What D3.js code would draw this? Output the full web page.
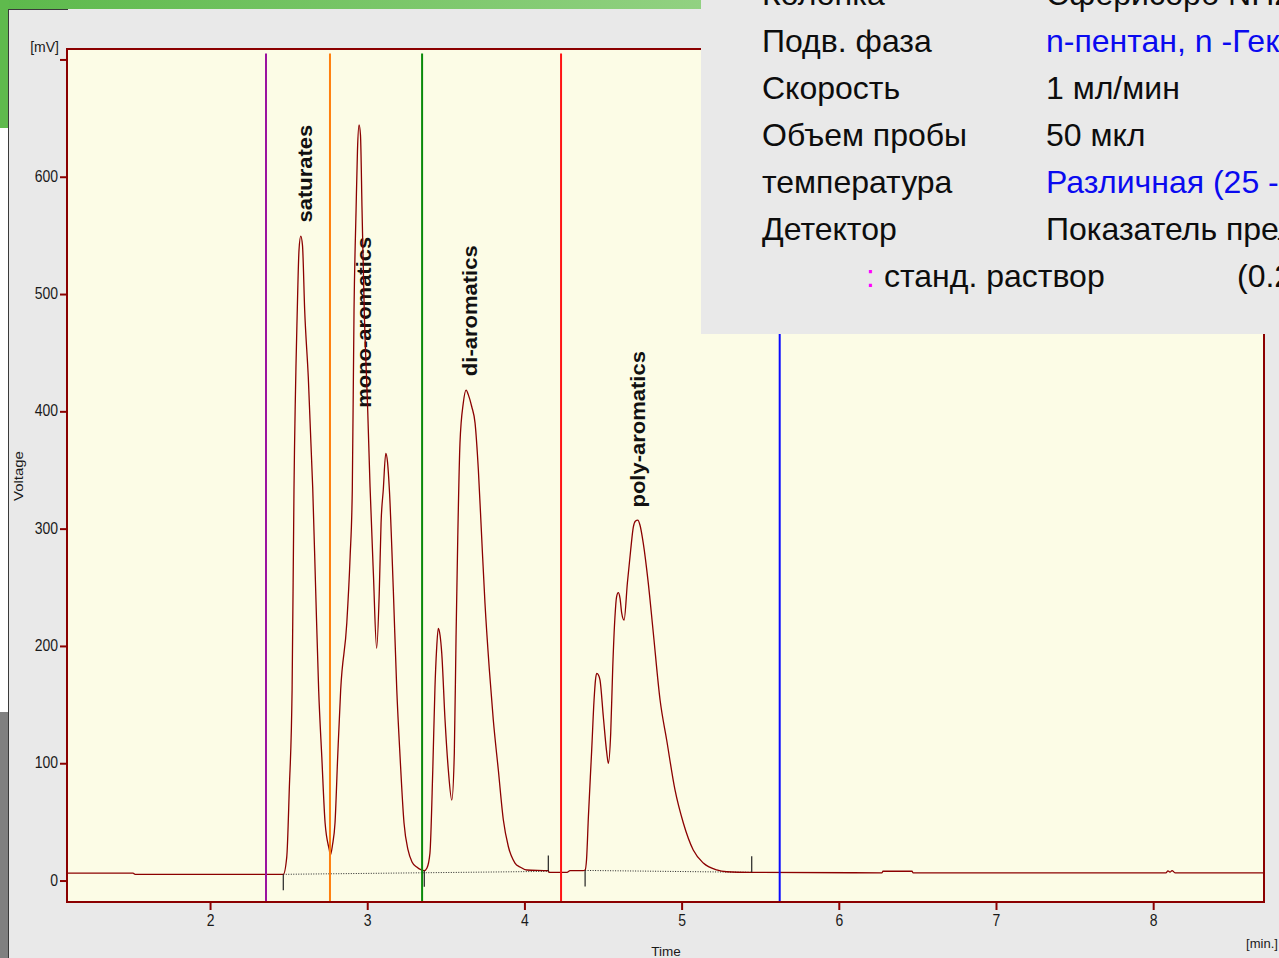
<!DOCTYPE html>
<html><head><meta charset="utf-8">
<script src="https://cdn.jsdelivr.net/npm/d3@7"></script>
<style>
body{margin:0;background:#fff;overflow:hidden;}
svg{display:block;font-family:"Liberation Sans",Arial,sans-serif;}
</style>
</head><body>
<svg id="chart" width="1279" height="958"></svg>
<script>
// ---------------- data ----------------
const timeTicks = [2, 3, 4, 5, 6, 7, 8];
const voltTicks = [0, 100, 200, 300, 400, 500, 600, 700];

const traceTime = [1.090,1.510,1.523,2.466,2.488,2.504,2.522,2.534,2.555,2.566,2.577,2.588,2.602,2.625,2.653,2.672,2.691,2.711,2.732,2.759,
  2.765,2.779,2.795,2.812,2.831,2.870,2.891,2.905,2.916,2.929,2.938,2.948,2.957,2.967,2.981,3.003,3.018,3.039,3.060,3.077,
  3.088,3.102,3.118,3.129,3.141,3.166,3.188,3.209,3.234,3.260,3.285,3.315,3.363,3.380,3.399,3.417,3.431,3.441,3.452,3.463,
  3.474,3.495,3.516,3.538,3.554,3.565,3.576,3.590,3.611,3.629,3.644,3.665,3.686,3.707,3.728,3.749,3.777,3.802,3.834,3.866,
  3.898,3.940,3.972,4.015,4.152,4.156,4.271,4.290,4.373,4.386,4.395,4.407,4.428,4.443,4.452,4.460,4.471,4.481,4.502,4.524,
  4.534,4.549,4.562,4.576,4.586,4.597,4.608,4.619,4.634,4.655,4.676,4.693,4.707,4.721,4.735,4.756,4.788,4.820,4.863,4.905,
  4.958,5.011,5.074,5.138,5.223,5.287,5.446,6.275,6.281,6.466,6.472,8.081,8.094,8.107,8.120,8.139,8.705];
const traceValue = [6.4,6.4,5.3,5.3,20,77.2,162.4,332.9,486.4,537.5,549.4,541.7,486.4,429.2,335.5,247.7,162.4,105.3,49.0,25.9,
  21.7,30.3,49.0,105.3,162.4,219.5,275.8,332.9,486.4,571.6,622.8,644.1,635.6,571.6,486.4,401.1,335.5,262.1,198.0,247.7,
  304.8,332.9,364.2,356.8,332.9,247.7,162.4,105.3,49.0,25.9,15.8,11.5,8.4,10.7,23.4,94.2,165.0,196.5,215.0,209.3,
  193.9,136.8,94.2,68.6,108.7,207.6,292.8,372.9,407.0,418.1,413.8,403.9,390.0,350.0,292.8,236.6,179.5,136.8,94.2,51.6,
  28.8,14.9,11.5,9.0,8.4,7.0,7.0,8.4,8.4,9.0,17.5,54.4,111.3,153.9,170.9,176.6,175.2,170.9,139.6,108.7,
  99.9,125.7,182.3,224.9,241.7,245.4,240.8,228.0,222.1,253.6,281.8,301.6,306.5,307.3,303.1,287.7,253.6,211.0,153.9,119.8,
  77.2,49.0,26.0,14.9,9.0,7.5,7.0,6.6,7.9,7.9,6.6,6.6,8.2,7.2,8.5,6.6,6.6];

// fraction cut lines
const cutTimes = [2.356, 2.763, 3.349, 4.233, 5.624];
const cutTop = 705;

// fraction labels
const fractionNames = ["saturates", "mono-aromatics", "di-aromatics", "poly-aromatics"];
const fractionLabelTime = [2.649, 3.024, 3.699, 4.764];
const fractionLabelValue = [561, 403, 430, 318];

// integration baselines (dotted) and peak-start/end marks
const baseStartTime = [2.466, 4.386];
const baseStartValue = [5.3, 8.6];
const baseEndTime = [4.152, 5.446];
const baseEndValue = [7.8, 7.0];
const markTime = [2.466, 3.363, 4.152, 4.386, 5.446];
const markValue = [5.3, 8.4, 7.8, 8.6, 7.0];
const markUp = [false, false, true, false, true];

// info table (Russian)
const tableLabels = ["Колонка", "Подв. фаза", "Скорость", "Объем пробы", "температура", "Детектор"];
const tableValues = ["Сферисорб NH2", "n-пентан, n -Гексан", "1 мл/мин", "50 мкл", "Различная (25 - 50 °C)", "Показатель преломления"];
const lastRowLabel = "станд. раствор";
const lastRowValue = "(0.2 %)";

// ---------------- drawing ----------------
const W = 1279, H = 958;
const svg = d3.select("#chart");
const defs = svg.append("defs");
const grad = defs.append("linearGradient").attr("id", "grn").attr("x1", "0").attr("x2", "1");
grad.append("stop").attr("offset", "0").attr("stop-color", "#5cb94b");
grad.append("stop").attr("offset", "1").attr("stop-color", "#93d283");

// slide background pieces
svg.append("rect").attr("x", 0).attr("y", 0).attr("width", W).attr("height", H).attr("fill", "#ffffff");
svg.append("rect").attr("x", 0).attr("y", 0).attr("width", 720).attr("height", 10).attr("fill", "url(#grn)");
svg.append("rect").attr("x", 0).attr("y", 0).attr("width", 9).attr("height", 128).attr("fill", "#5fba4d");
svg.append("rect").attr("x", 0).attr("y", 712).attr("width", 9).attr("height", H - 712).attr("fill", "#808080");

// chart panel
svg.append("rect").attr("x", 8).attr("y", 9).attr("width", W - 8).attr("height", H - 9).attr("fill", "#e9e9e9");
svg.append("line").attr("x1", 8.5).attr("x2", 8.5).attr("y1", 9).attr("y2", H).attr("stroke", "#3a3a3a").attr("stroke-width", 1);
svg.append("line").attr("x1", 8).attr("x2", 68).attr("y1", 9.5).attr("y2", 9.5).attr("stroke", "#3a3a3a").attr("stroke-width", 1);

const x = d3.scaleLinear().domain([1.09, 8.705]).range([67, 1264]);
const y = d3.scaleLinear().domain([-18.3, 708.9]).range([902, 49]);

// plot area
svg.append("rect").attr("x", x.range()[0]).attr("y", y.range()[1])
  .attr("width", x.range()[1] - x.range()[0]).attr("height", y.range()[0] - y.range()[1])
  .attr("fill", "#fcfce6");

// fraction labels (under the trace)
const lab = svg.append("g");
fractionNames.forEach((n, i) => {
  lab.append("text")
    .attr("transform", `translate(${x(fractionLabelTime[i])},${y(fractionLabelValue[i])}) rotate(-90) scale(1.1,1)`)
    .attr("font-size", 20).attr("font-weight", "bold").attr("fill", "#111")
    .text(n);
});

// dotted integration baselines
for (let i = 0; i < baseStartTime.length; i++) {
  svg.append("line")
    .attr("x1", x(baseStartTime[i])).attr("y1", y(baseStartValue[i]))
    .attr("x2", x(baseEndTime[i])).attr("y2", y(baseEndValue[i]))
    .attr("stroke", "#222").attr("stroke-width", 1).attr("stroke-dasharray", "1,1.5");
}

// trace
const pts = traceTime.map((t, i) => [t, traceValue[i]]);
const line = d3.line().x(d => x(d[0])).y(d => y(d[1])).curve(d3.curveMonotoneX);
svg.append("path").attr("d", line(pts)).attr("fill", "none")
  .attr("stroke", "#8b0000").attr("stroke-width", 1.3).attr("stroke-linejoin", "round");

// integration marks
markTime.forEach((t, i) => {
  const y0 = y(markValue[i]);
  svg.append("line").attr("x1", x(t)).attr("x2", x(t))
    .attr("y1", y0).attr("y2", markUp[i] ? y0 - 16 : y0 + 16)
    .attr("stroke", "#222").attr("stroke-width", 1.2);
});

// cut lines
const cutColors = ["#9b139f", "#ff7f0e", "#0a8a0a", "#ff1414", "#0a0aff"];
cutTimes.forEach((t, i) => {
  svg.append("line").attr("x1", x(t)).attr("x2", x(t))
    .attr("y1", y(cutTop)).attr("y2", y.range()[0])
    .attr("stroke", cutColors[i]).attr("stroke-width", 2);
});

// frame
svg.append("rect").attr("x", x.range()[0]).attr("y", y.range()[1])
  .attr("width", x.range()[1] - x.range()[0]).attr("height", y.range()[0] - y.range()[1])
  .attr("fill", "none").attr("stroke", "#8b0000").attr("stroke-width", 2);

// axes
const yAxis = d3.axisLeft(y).tickValues(voltTicks).tickSize(7).tickPadding(2)
  .tickFormat(d => d === 700 ? "" : d);
const gy = svg.append("g").attr("transform", `translate(${x.range()[0]},0)`).call(yAxis);
const xAxis = d3.axisBottom(x).tickValues(timeTicks).tickSize(8).tickPadding(2).tickFormat(d3.format("d"));
const gx = svg.append("g").attr("transform", `translate(0,${y.range()[0]})`).call(xAxis);
[gx, gy].forEach(g => {
  g.select(".domain").remove();
  g.selectAll(".tick line").attr("stroke", "#8b0000").attr("stroke-width", 2);
  g.selectAll(".tick text").attr("fill", "#1a1a1a").attr("font-size", 14)
    .attr("font-family", "Liberation Sans, Arial, sans-serif");
});
gy.selectAll(".tick text").attr("transform", "scale(1,1.18)").attr("dy", "0.27em");
gx.selectAll(".tick text").attr("transform", "scale(1,1.18)");

// axis titles
svg.append("text").attr("x", 59).attr("y", 52).attr("text-anchor", "end")
  .attr("font-size", 14).attr("fill", "#1a1a1a").text("[mV]");
svg.append("text").attr("transform", "translate(23,476) rotate(-90) scale(1.15,1)")
  .attr("text-anchor", "middle").attr("font-size", 13).attr("fill", "#1a1a1a").text("Voltage");
svg.append("text").attr("x", 666).attr("y", 956).attr("text-anchor", "middle")
  .attr("font-size", 13.5).attr("fill", "#1a1a1a").text("Time");
svg.append("text").attr("x", 1262).attr("y", 948).attr("text-anchor", "middle")
  .attr("font-size", 13).attr("fill", "#1a1a1a").text("[min.]");

// info overlay box
svg.append("rect").attr("x", 701).attr("y", 0).attr("width", W - 701).attr("height", 334).attr("fill", "#e9e9e9");
const tg = svg.append("g").attr("font-size", 32).attr("fill", "#0d0d0d");
const blueRows = [1, 4];
tableLabels.forEach((t, i) => {
  const by = 5 + 47 * i;
  tg.append("text").attr("x", 762).attr("y", by).text(t);
  tg.append("text").attr("x", 1046).attr("y", by)
    .attr("fill", blueRows.includes(i) ? "#0a0af0" : "#0d0d0d").text(tableValues[i]);
});
const lastY = 5 + 47 * tableLabels.length;
tg.append("text").attr("x", 866).attr("y", lastY).attr("fill", "#ff00ff").text(":");
tg.append("text").attr("x", 884).attr("y", lastY).text(lastRowLabel);
tg.append("text").attr("x", 1237).attr("y", lastY).text(lastRowValue);
</script>
</body></html>
